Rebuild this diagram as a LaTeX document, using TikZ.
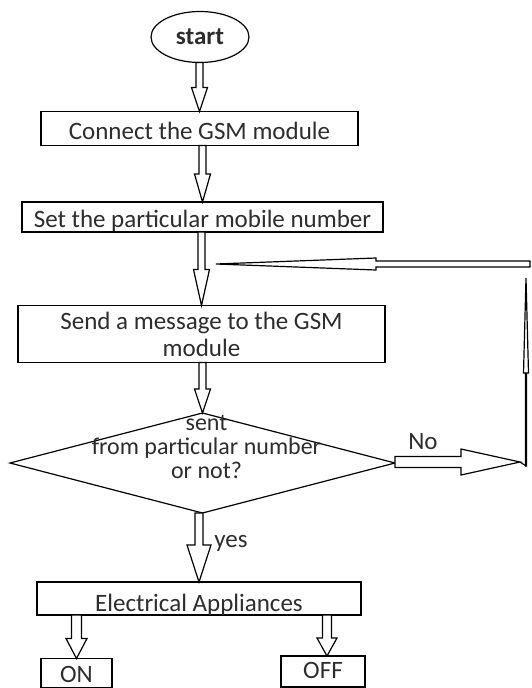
\documentclass[tikz,border=0pt]{standalone}
\usepackage{fontspec}
\setmainfont{Carlito}
\usetikzlibrary{calc,shapes.geometric}
\definecolor{inkgray}{RGB}{45, 45, 45}

\tikzset{
  box/.style={draw=black, line width=1.2pt, fill=white, inner sep=0pt, outer sep=0pt,
              text=inkgray, font=\fontsize{25}{27}\selectfont},
  lowtext/.style={text height=#1, text depth=0pt},
  lbl/.style={text=inkgray, inner sep=0pt, font=\fontsize{25}{27}\selectfont},
  arrowbox/.style={draw=black, line width=1.2pt, fill=white, line join=miter},
  % hollow block arrow, vertical: shaft half width, head half width, head length, +1 down / -1 up
  vblock/.style n args={4}{to path={let \p1=(\tikztostart), \p2=(\tikztotarget) in
      ({\x2-#1},\y1) -- ({\x2-#1},{\y2+(#4)*(#3)}) -- ({\x2-#2},{\y2+(#4)*(#3)}) -- (\x2,\y2)
      -- ({\x2+#2},{\y2+(#4)*(#3)}) -- ({\x2+#1},{\y2+(#4)*(#3)}) -- ({\x2+#1},\y1) -- cycle}},
  % hollow block arrow, horizontal: +1 right / -1 left
  hblock/.style n args={4}{to path={let \p1=(\tikztostart), \p2=(\tikztotarget) in
      (\x1,{\y2-#1}) -- ({\x2-(#4)*(#3)},{\y2-#1}) -- ({\x2-(#4)*(#3)},{\y2-#2}) -- (\x2,\y2)
      -- ({\x2-(#4)*(#3)},{\y2+#2}) -- ({\x2-(#4)*(#3)},{\y2+#1}) -- (\x1,{\y2+#1}) -- cycle}}
}

\begin{document}
\begin{tikzpicture}[x=1pt,y=-1pt]
        \fill[white] (0,0) rectangle (531,688);
        \useasboundingbox (0,0) rectangle (531,688);

        % boxes
        \node[box, ellipse, minimum width=98pt, minimum height=51pt, font=\bfseries\fontsize{25}{27}\selectfont]
                                                                            (start)   at (200.0, 37.0) {start};
        \node[box, lowtext=21pt, minimum width=317pt, minimum height=34pt]  (connect) at (199.5,128.5) {Connect the GSM module};
        \node[box, lowtext=21pt, minimum width=361pt, minimum height=30pt]  (setnum)  at (202.5,217.0) {Set the particular mobile number};
        \node[box, minimum width=367pt, minimum height=57pt, align=center]  (send)    at (201.5,334.0) {Send a message to the GSM\\module};
        \node[box, diamond, minimum width=385pt, minimum height=100pt,
              label={[lbl, align=center, font=\fontsize{24}{24}\selectfont, xshift=4pt, yshift=16pt]center:sent\\from particular number\\or not?}]
                                                                            (check)   at (202.5,463.0) {};
        \node[box, lowtext=26pt, minimum width=324pt, minimum height=33pt]  (appl)    at (199.0,598.5) {Electrical Appliances};
        \node[box, lowtext=18pt, minimum width=71pt,  minimum height=29pt]  (on)      at ( 76.5,673.0) {ON};
        \node[box, lowtext=14pt, minimum width=84pt,  minimum height=31pt]  (off)     at (323.0,671.5) {OFF};

        % loop back corners
        \coordinate (noend)   at (520,462);
        \coordinate (loopbot) at (526,466);
        \coordinate (looptop) at (526,278);
        \coordinate (loopend) at (530,265);
        \coordinate (looptip) at (216,264);

        % labels
        \node[lbl] (nolbl)  at (423,442) {No};
        \node[lbl] (yeslbl) at (231,543) {yes};

        % arrows
        \draw[arrowbox, vblock={3.5pt}{8pt}{24pt}{1}]    (start.south)         to (connect.north);
        \draw[arrowbox, vblock={3.5pt}{8pt}{28pt}{1}]    (connect.south)       to (setnum.north);
        \draw[arrowbox, vblock={3.5pt}{8pt}{36pt}{1}]    (setnum.south)        to (send.north);
        \draw[arrowbox, vblock={3.5pt}{8pt}{24pt}{1}]    (send.south)          to (check.north);
        \draw[arrowbox, vblock={4pt}{12pt}{37pt}{1}]     (check.south)         to (appl.north);
        \draw[arrowbox, vblock={5pt}{10.5pt}{20pt}{1}]   (appl.south -| on.north)  to (on.north);
        \draw[arrowbox, vblock={4.5pt}{10pt}{18pt}{1}]   ([xshift=4pt]appl.south -| off.north) to ([xshift=4pt]off.north);
        \draw[arrowbox, hblock={5.5pt}{13pt}{59pt}{1}]   (check.east)          to (noend);
        \draw[line width=1.2pt]                          (noend) -- (loopbot);
        \draw[arrowbox, vblock={0.5pt}{2.5pt}{95pt}{-1}] (loopbot)             to (looptop);
        \draw[arrowbox, hblock={3pt}{6pt}{160pt}{-1}]    (loopend)             to (looptip);
\end{tikzpicture}
\end{document}
